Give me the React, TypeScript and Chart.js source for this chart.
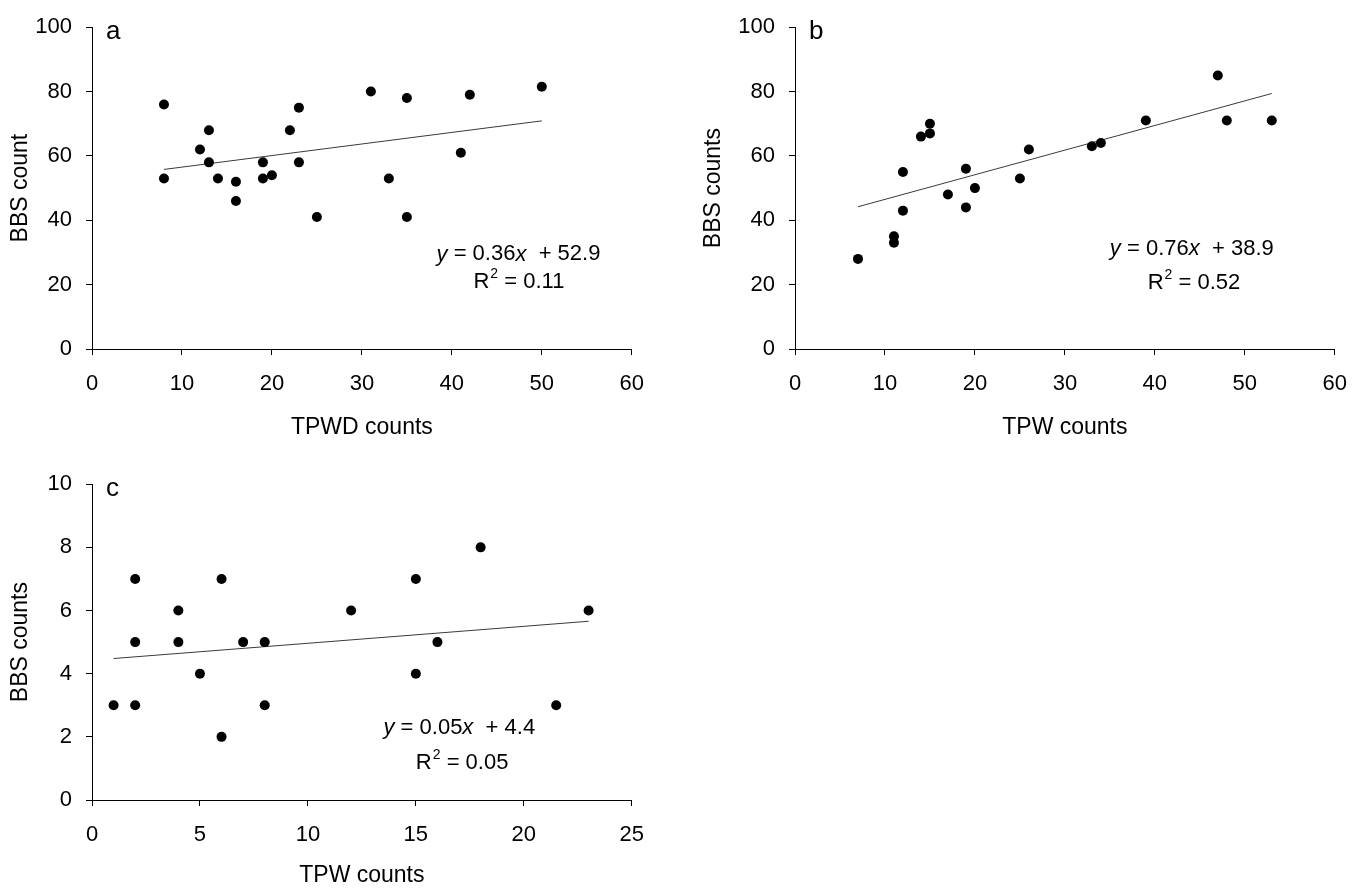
import React, { useEffect, useRef } from "react";
import { Chart, registerables } from "chart.js";

Chart.register(...registerables);

const FONT = "'Liberation Sans', Arial, Helvetica, sans-serif";

// ---------- Panel a ----------
const aTPWD = [8, 8, 12, 13, 13, 14, 16, 16, 19, 19, 20, 22, 23, 23, 25, 31, 33, 35, 35, 41, 42, 50];
const aBBS = [76, 53, 62, 68, 58, 53, 52, 46, 58, 53, 54, 68, 75, 58, 41, 80, 53, 78, 41, 61, 79, 81.5];
const aFitX = [8, 50];
const aFitY = [55.8, 70.9];
const aXTicks = [0, 10, 20, 30, 40, 50, 60];
const aYTicks = [0, 20, 40, 60, 80, 100];

// ---------- Panel b ----------
const bTPW = [7, 11, 11, 12, 12, 14, 15, 15, 17, 19, 19, 20, 25, 26, 33, 34, 39, 47, 48, 53];
const bBBS = [28, 35, 33, 55, 43, 66, 70, 67, 48, 56, 44, 50, 53, 62, 63, 64, 71, 85, 71, 71];
const bFitX = [7, 53];
const bFitY = [44.2, 79.4];
const bXTicks = [0, 10, 20, 30, 40, 50, 60];
const bYTicks = [0, 20, 40, 60, 80, 100];

// ---------- Panel c ----------
const cTPW = [1, 2, 2, 2, 4, 4, 5, 6, 6, 7, 8, 8, 12, 15, 15, 16, 18, 21.5, 23];
const cBBS = [3, 7, 5, 3, 6, 5, 4, 7, 2, 5, 5, 3, 6, 7, 4, 5, 8, 3, 6];
const cFitX = [1, 23];
const cFitY = [4.48, 5.66];
const cXTicks = [0, 5, 10, 15, 20, 25];
const cYTicks = [0, 2, 4, 6, 8, 10];

type PanelCfg = {
  letter: string;
  xs: number[];
  ys: number[];
  fitX: number[];
  fitY: number[];
  xTicks: number[];
  yTicks: number[];
  xTitle: string;
  yTitle: string;
  slope: string;
  intercept: string;
  r2: string;
  eqX: number;
  eqY: number;
  r2X: number;
  r2Y: number;
  left: number;
  top: number;
  width: number;
  height: number;
  yWidth: number;
  xHeight: number;
  xTitlePad: number;
};

const textPlugin = {
  id: "panelText",
  afterDraw(chart: any) {
    const o = chart.options.plugins.panelText;
    if (!o) return;
    const { ctx, chartArea, scales } = chart;
    ctx.save();
    ctx.fillStyle = "#000";
    ctx.textAlign = "left";
    ctx.textBaseline = "alphabetic";
    ctx.font = `26px ${FONT}`;
    ctx.fillText(o.letter, chartArea.left + 14, chartArea.top + 12);

    ctx.textBaseline = "middle";
    const draw = (segs: { t: string; it?: boolean; sup?: boolean }[], x: number, y: number) => {
      let cx = x;
      for (const s of segs) {
        if (s.sup) {
          ctx.font = `14px ${FONT}`;
          ctx.fillText(s.t, cx + 1, y - 8);
          cx += ctx.measureText(s.t).width + 1;
        } else {
          ctx.font = `${s.it ? "italic " : ""}22px ${FONT}`;
          ctx.fillText(s.t, cx, y);
          cx += ctx.measureText(s.t).width;
        }
      }
    };
    draw(
      [
        { t: "y", it: true },
        { t: " = " + o.slope },
        { t: "x", it: true },
        { t: "  + " + o.intercept },
      ],
      scales.x.getPixelForValue(o.eqX),
      scales.y.getPixelForValue(o.eqY)
    );
    draw(
      [{ t: "R" }, { t: "2", sup: true }, { t: " = " + o.r2 }],
      scales.x.getPixelForValue(o.r2X),
      scales.y.getPixelForValue(o.r2Y)
    );
    ctx.restore();
  },
};

function Panel({ cfg }: { cfg: PanelCfg }) {
  const ref = useRef<HTMLCanvasElement | null>(null);
  useEffect(() => {
    if (!ref.current) return;
    const pts = cfg.xs.map((x, i) => ({ x, y: cfg.ys[i] }));
    const fit = cfg.fitX.map((x, i) => ({ x, y: cfg.fitY[i] }));
    const step = (t: number[]) => t[1] - t[0];
    const chart = new Chart(ref.current, {
      type: "scatter",
      data: {
        datasets: [
          {
            data: pts,
            backgroundColor: "#000",
            borderColor: "#000",
            borderWidth: 0,
            pointRadius: 5,
            pointHoverRadius: 5,
          },
          {
            type: "line",
            data: fit,
            borderColor: "#3a3a3a",
            borderWidth: 1,
            pointRadius: 0,
            fill: false,
            showLine: true,
          } as any,
        ],
      },
      options: {
        animation: false,
        responsive: false,
        devicePixelRatio: 1,
        events: [],
        layout: { padding: { top: 23, right: 22, left: 0, bottom: 0 } },
        plugins: {
          legend: { display: false },
          tooltip: { enabled: false },
          panelText: {
            letter: cfg.letter,
            slope: cfg.slope,
            intercept: cfg.intercept,
            r2: cfg.r2,
            eqX: cfg.eqX,
            eqY: cfg.eqY,
            r2X: cfg.r2X,
            r2Y: cfg.r2Y,
          },
        } as any,
        scales: {
          x: {
            type: "linear",
            min: cfg.xTicks[0],
            max: cfg.xTicks[cfg.xTicks.length - 1],
            afterFit: (s: any) => {
              s.height = cfg.xHeight;
            },
            ticks: {
              stepSize: step(cfg.xTicks),
              color: "#000",
              font: { family: FONT, size: 22 },
              padding: 16,
              maxRotation: 0,
            },
            grid: {
              display: true,
              drawOnChartArea: false,
              drawTicks: true,
              tickLength: 6,
              color: "#000",
              lineWidth: 1,
            },
            border: { display: true, color: "#000", width: 1 },
            title: {
              display: true,
              text: cfg.xTitle,
              color: "#000",
              font: { family: FONT, size: 23 },
              padding: { top: 0, bottom: cfg.xTitlePad },
            },
          },
          y: {
            type: "linear",
            min: cfg.yTicks[0],
            max: cfg.yTicks[cfg.yTicks.length - 1],
            afterFit: (s: any) => {
              s.width = cfg.yWidth;
            },
            ticks: {
              stepSize: step(cfg.yTicks),
              color: "#000",
              font: { family: FONT, size: 22 },
              padding: 14,
            },
            grid: {
              display: true,
              drawOnChartArea: false,
              drawTicks: true,
              tickLength: 6,
              color: "#000",
              lineWidth: 1,
            },
            border: { display: true, color: "#000", width: 1 },
            title: {
              display: true,
              text: cfg.yTitle,
              color: "#000",
              font: { family: FONT, size: 23 },
              padding: { top: 7, bottom: 0 },
            },
          },
        },
      },
      plugins: [textPlugin],
    } as any);
    return () => chart.destroy();
  }, [cfg]);
  return (
    <canvas
      ref={ref}
      width={cfg.width}
      height={cfg.height}
      style={{
        position: "absolute",
        left: cfg.left,
        top: cfg.top,
        width: cfg.width,
        height: cfg.height,
        display: "block",
      }}
    />
  );
}

const panelA: PanelCfg = {
  letter: "a",
  xs: aTPWD,
  ys: aBBS,
  fitX: aFitX,
  fitY: aFitY,
  xTicks: aXTicks,
  yTicks: aYTicks,
  xTitle: "TPWD counts",
  yTitle: "BBS count",
  slope: "0.36",
  intercept: "52.9",
  r2: "0.11",
  eqX: 38.3,
  eqY: 29.4,
  r2X: 42.4,
  r2Y: 20.9,
  left: 0,
  top: 0,
  width: 660,
  height: 445,
  yWidth: 92,
  xHeight: 96,
  xTitlePad: 4,
};

const panelB: PanelCfg = {
  letter: "b",
  xs: bTPW,
  ys: bBBS,
  fitX: bFitX,
  fitY: bFitY,
  xTicks: bXTicks,
  yTicks: bYTicks,
  xTitle: "TPW counts",
  yTitle: "BBS counts",
  slope: "0.76",
  intercept: "38.9",
  r2: "0.52",
  eqX: 35,
  eqY: 31,
  r2X: 39.2,
  r2Y: 20.6,
  left: 693,
  top: 0,
  width: 670,
  height: 445,
  yWidth: 102,
  xHeight: 96,
  xTitlePad: 4,
};

const panelC: PanelCfg = {
  letter: "c",
  xs: cTPW,
  ys: cBBS,
  fitX: cFitX,
  fitY: cFitY,
  xTicks: cXTicks,
  yTicks: cYTicks,
  xTitle: "TPW counts",
  yTitle: "BBS counts",
  slope: "0.05",
  intercept: "4.4",
  r2: "0.05",
  eqX: 13.5,
  eqY: 2.28,
  r2X: 15.0,
  r2Y: 1.16,
  left: 0,
  top: 457,
  width: 660,
  height: 432,
  yWidth: 92,
  xHeight: 89,
  xTitlePad: 0,
};

export default function App() {
  useEffect(() => {
    document.body.style.overflow = "hidden";
    document.body.style.background = "#fff";
  }, []);
  return (
    <div
      style={{
        width: 1370,
        height: 889,
        position: "absolute",
        left: 0,
        top: 0,
        background: "#fff",
        overflow: "hidden",
      }}
    >
      <Panel cfg={panelA} />
      <Panel cfg={panelB} />
      <Panel cfg={panelC} />
    </div>
  );
}
